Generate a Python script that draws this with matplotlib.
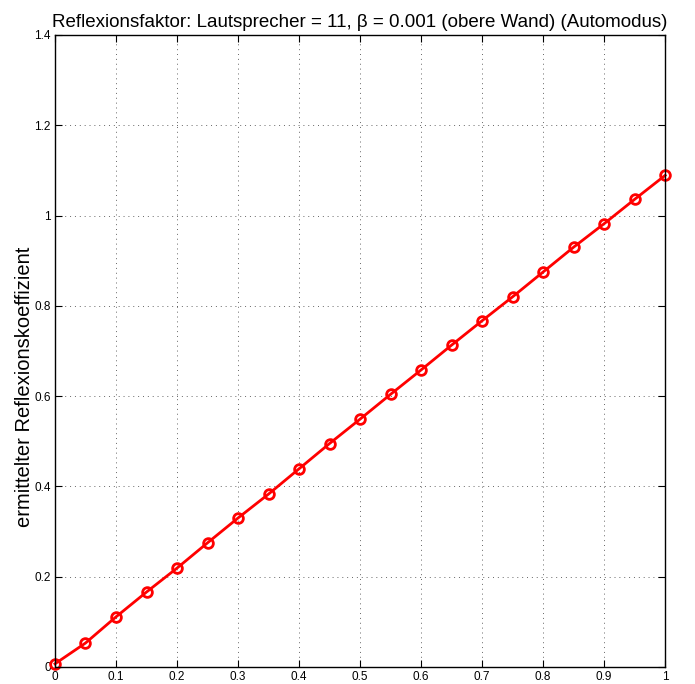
import matplotlib
matplotlib.use("Agg")
import matplotlib.pyplot as plt
import numpy as np

plt.rcParams['font.family'] = ['Liberation Sans', 'DejaVu Sans']

# reflexion factor sweep and estimated coefficient
r_soll = [0.0, 0.05, 0.1, 0.15, 0.2, 0.25, 0.3, 0.35, 0.4, 0.45, 0.5,
          0.55, 0.6, 0.65, 0.7, 0.75, 0.8, 0.85, 0.9, 0.95, 1.0]
r_ermittelt = [0.007, 0.053, 0.111, 0.166, 0.219, 0.275, 0.330, 0.383, 0.439,
               0.495, 0.549, 0.604, 0.658, 0.713, 0.767, 0.820, 0.875, 0.930,
               0.982, 1.036, 1.089]
xticks = [0, 0.1, 0.2, 0.3, 0.4, 0.5, 0.6, 0.7, 0.8, 0.9, 1]
yticks = [0, 0.2, 0.4, 0.6, 0.8, 1, 1.2, 1.4]

fig = plt.figure(figsize=(6.95, 6.84), dpi=100)
ax = fig.add_axes([0.0791, 0.0249, 0.878, 0.924])

ax.plot(r_soll, r_ermittelt, color='red', lw=2, marker='o', ms=7,
        mfc='none', mec='red', mew=2, clip_on=False, zorder=3)

ax.set_xlim(0, 1)
ax.set_ylim(0, 1.4)
ax.set_xticks(xticks)
ax.set_yticks(yticks)
ax.set_xticklabels([f"{t:g}" for t in xticks])
ax.set_yticklabels([f"{t:g}" for t in yticks])
ax.tick_params(direction='in', length=5, width=0.8, labelsize=8.5,
               top=True, right=True, pad=3)
ax.grid(True, color='black', linestyle=(0, (1, 4)), linewidth=0.7, alpha=0.6)
for s in ax.spines.values():
    s.set_linewidth(1)
    s.set_zorder(4)

ax.set_ylabel('ermittelter Reflexionskoeffizient', fontsize=14.5)
ax.yaxis.set_label_coords(-0.034, 0.443)
ax.set_title('Reflexionsfaktor: Lautsprecher = 11, β = 0.001 (obere Wand) (Automodus)',
             fontsize=13.5, pad=6)

fig.savefig('out.png', dpi=100)
